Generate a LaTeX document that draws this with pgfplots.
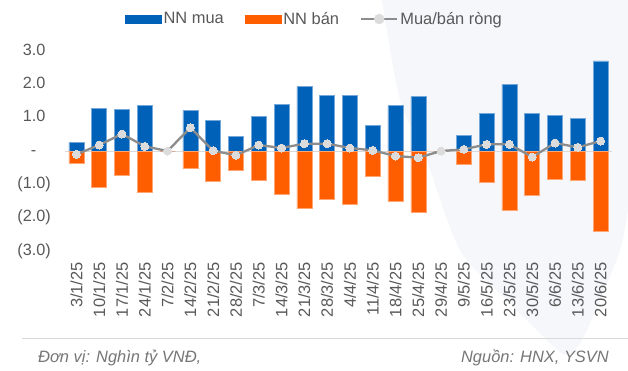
\documentclass[border=0pt]{standalone}
\usepackage{fontspec}
\setmainfont{Liberation Sans}
\usepackage{pgfplots}
\usepackage{pgfplotstable}
\pgfplotsset{compat=1.18}
\definecolor{nnblue}{RGB}{0,97,185}
\definecolor{nnorange}{RGB}{255,94,0}
\definecolor{netgray}{RGB}{140,140,140}
\definecolor{mkgray}{RGB}{220,220,220}
\definecolor{txtgray}{RGB}{89,89,89}
\definecolor{srcgray}{RGB}{118,118,118}
\definecolor{bgshape}{RGB}{245,247,251}
\definecolor{zerogray}{RGB}{217,217,217}

\pgfplotstableread{
x buy sell net
0 0.25 -0.36 -0.10
1 1.28 -1.10 0.18
2 1.24 -0.73 0.51
3 1.37 -1.24 0.14
4 0 0 0
5 1.22 -0.53 0.70
6 0.92 -0.91 0.01
7 0.45 -0.59 -0.13
8 1.04 -0.87 0.18
9 1.39 -1.31 0.09
10 1.93 -1.72 0.22
11 1.67 -1.45 0.22
12 1.68 -1.61 0.09
13 0.77 -0.76 0.02
14 1.36 -1.51 -0.15
15 1.63 -1.84 -0.20
16 0 0 0
17 0.46 -0.41 0.05
18 1.13 -0.94 0.20
19 1.99 -1.79 0.20
20 1.14 -1.33 -0.18
21 1.08 -0.84 0.24
22 0.97 -0.88 0.11
23 2.70 -2.40 0.30
}\datatable

\begin{document}
\begin{tikzpicture}[x=1bp,y=1bp]
\useasboundingbox (0,0) rectangle (628,370);
\fill[white] (0,0) rectangle (628,370);
% faint decorative background shape
\fill[bgshape] plot[smooth] coordinates {(382,370) (400,270) (423,220) (460,120) (507,70) (550,27) (567,15) (582,30) (600,70) (620,120) (628,160)} -- (628,370) -- cycle;

\begin{axis}[
  at={(65bp,119bp)}, anchor=south west,
  scale only axis, width=547bp, height=200bp,
  xmin=-0.5, xmax=23.5, ymin=-3, ymax=3,
  axis line style={draw=none},
  tick style={draw=none},
  xtick={0,...,23},
  xticklabels={3/1/25,10/1/25,17/1/25,24/1/25,7/2/25,14/2/25,21/2/25,28/2/25,7/3/25,14/3/25,21/3/25,28/3/25,4/4/25,11/4/25,18/4/25,25/4/25,29/4/25,9/5/25,16/5/25,23/5/25,30/5/25,6/6/25,13/6/25,20/6/25},
  ytick={-3,-2,-1,0,1,2,3},
  yticklabels={(3.0),(2.0),(1.0),{-\phantom{0)}},{1.0\phantom{)}},{2.0\phantom{)}},{3.0\phantom{)}}},
  xticklabel shift=11bp,
  yticklabel shift=14bp,
  xticklabel style={rotate=90, anchor=east, inner sep=0pt, font=\fontsize{16.5}{19}\selectfont, text=txtgray},
  yticklabel style={anchor=east, inner sep=0pt, font=\fontsize{16.3}{19}\selectfont, text=txtgray},
  legend columns=3,
  legend style={draw=none, fill=none, at={(0.456,1.16)}, anchor=center,
    font=\fontsize{16.5}{19}\selectfont, text=txtgray,
    /tikz/every even column/.append style={column sep=19bp},
    nodes={inner sep=2bp}},
  clip=false,
]
\draw[zerogray, line width=1bp] (axis cs:-0.5,0) -- (axis cs:23.5,0);
\addplot[ybar, bar width=15bp, bar shift=0pt, fill=nnblue, draw=nnblue!55!white, line width=0.5bp,
  legend image code/.code={\fill[nnblue] (0bp,-4bp) rectangle (36bp,4bp);}]
  table[x=x, y=buy] {\datatable};
\addlegendentry{NN mua}
\addplot[ybar, bar width=15bp, bar shift=0pt, fill=nnorange, draw=nnorange!55!white, line width=0.5bp,
  legend image code/.code={\fill[nnorange] (0bp,-4bp) rectangle (36bp,4bp);}]
  table[x=x, y=sell] {\datatable};
\addlegendentry{NN bán}
\addplot[sharp plot, color=netgray, line width=2.3bp, mark=*, mark size=4bp,
  mark options={solid, fill=mkgray, draw=mkgray, line width=0pt},
  legend image code/.code={\draw[netgray, line width=2.3bp] (0bp,0bp) -- (36bp,0bp);
     \fill[mkgray] (18bp,0bp) circle (4bp);}]
  table[x=x, y=net] {\datatable};
\addlegendentry{Mua/bán ròng}
\end{axis}

\draw[zerogray, line width=1bp] (22,32) -- (628,32);
\node[anchor=west, inner sep=0pt, font=\fontsize{16.5}{19}\selectfont\itshape, text=srcgray] at (38,12) {Đơn vị: Nghìn tỷ VNĐ,};
\node[anchor=east, inner sep=0pt, font=\fontsize{16.5}{19}\selectfont\itshape, text=srcgray] at (609,12) {Nguồn: HNX, YSVN};
\end{tikzpicture}
\end{document}
